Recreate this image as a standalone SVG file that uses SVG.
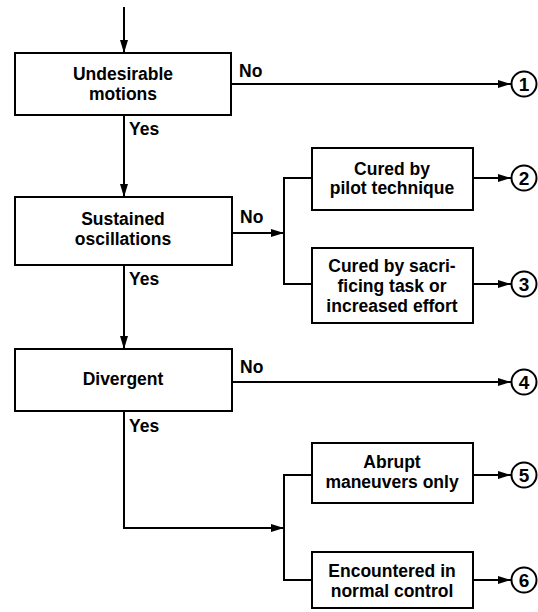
<svg xmlns="http://www.w3.org/2000/svg" width="538" height="612" viewBox="0 0 538 612">
<style>
.box{fill:#fff;stroke:#000;stroke-width:2}
.t{font-family:"Liberation Sans",Arial,sans-serif;font-weight:bold;font-size:17.5px;fill:#000;text-anchor:middle}
.n{font-family:"Liberation Sans",Arial,sans-serif;font-weight:bold;font-size:19px;fill:#000;text-anchor:middle}
.l{font-family:"Liberation Sans",Arial,sans-serif;font-weight:bold;font-size:17.5px;fill:#000}
.c{fill:#fff;stroke:#000;stroke-width:2}
.w{fill:none;stroke:#000;stroke-width:2}
</style>
<defs>
<marker id="ah" markerUnits="userSpaceOnUse" markerWidth="14" markerHeight="10" refX="13" refY="4" orient="auto">
<path d="M0,0 L13,4 L0,8 z" fill="#000"/>
</marker>
</defs>
<g id="connectors">
<line class="w" x1="124" y1="7" x2="124" y2="53" marker-end="url(#ah)"/>
<line class="w" x1="231" y1="84" x2="511" y2="84" marker-end="url(#ah)"/>
<line class="w" x1="124" y1="115" x2="124" y2="197" marker-end="url(#ah)"/>
<line class="w" x1="232" y1="233" x2="284" y2="233" marker-end="url(#ah)"/>
<path class="w" d="M312,178 H284 V284 H312"/>
<line class="w" x1="473" y1="178" x2="511" y2="178" marker-end="url(#ah)"/>
<line class="w" x1="473" y1="284" x2="511" y2="284" marker-end="url(#ah)"/>
<line class="w" x1="124" y1="265" x2="124" y2="349" marker-end="url(#ah)"/>
<line class="w" x1="232" y1="382" x2="511" y2="382" marker-end="url(#ah)"/>
<path class="w" d="M124,411 V528 H284" marker-end="url(#ah)"/>
<path class="w" d="M312,475 H284 V580 H312"/>
<line class="w" x1="473" y1="475" x2="511" y2="475" marker-end="url(#ah)"/>
<line class="w" x1="473" y1="580" x2="511" y2="580" marker-end="url(#ah)"/>
<text class="l" x="239" y="77">No</text>
<text class="l" x="129" y="135">Yes</text>
<text class="l" x="240" y="223">No</text>
<text class="l" x="129" y="285">Yes</text>
<text class="l" x="240" y="373">No</text>
<text class="l" x="129" y="432">Yes</text>
</g>
<g id="n_undesirable">
<rect class="box" x="15" y="53" width="216" height="62"/>
<text class="t" x="123" y="80">Undesirable</text>
<text class="t" x="123" y="100">motions</text>
</g>
<g id="n_sustained">
<rect class="box" x="15" y="197" width="217" height="68"/>
<text class="t" x="123" y="225">Sustained</text>
<text class="t" x="123" y="245">oscillations</text>
</g>
<g id="n_divergent">
<rect class="box" x="15" y="349" width="217" height="62"/>
<text class="t" x="123" y="385">Divergent</text>
</g>
<g id="n_pilot">
<rect class="box" x="312" y="148" width="161" height="62"/>
<text class="t" x="392" y="175">Cured by</text>
<text class="t" x="392" y="194">pilot technique</text>
</g>
<g id="n_sacrificing">
<rect class="box" x="312" y="248" width="161" height="75"/>
<text class="t" x="392" y="272">Cured by sacri-</text>
<text class="t" x="392" y="292">ficing task or</text>
<text class="t" x="392" y="312">increased effort</text>
</g>
<g id="n_abrupt">
<rect class="box" x="312" y="443" width="161" height="60"/>
<text class="t" x="392" y="468">Abrupt</text>
<text class="t" x="392" y="488">maneuvers only</text>
</g>
<g id="n_encountered">
<rect class="box" x="312" y="552" width="161" height="56"/>
<text class="t" x="392" y="577">Encountered in</text>
<text class="t" x="392" y="597">normal control</text>
</g>
<g id="c1"><circle class="c" cx="524" cy="84" r="12.5"/><text class="n" x="524" y="91">1</text></g>
<g id="c2"><circle class="c" cx="524" cy="178" r="12.5"/><text class="n" x="524" y="185">2</text></g>
<g id="c3"><circle class="c" cx="524" cy="284" r="12.5"/><text class="n" x="524" y="291">3</text></g>
<g id="c4"><circle class="c" cx="524" cy="382" r="12.5"/><text class="n" x="524" y="389">4</text></g>
<g id="c5"><circle class="c" cx="524" cy="475" r="12.5"/><text class="n" x="524" y="482">5</text></g>
<g id="c6"><circle class="c" cx="524" cy="580" r="12.5"/><text class="n" x="524" y="587">6</text></g>
</svg>
